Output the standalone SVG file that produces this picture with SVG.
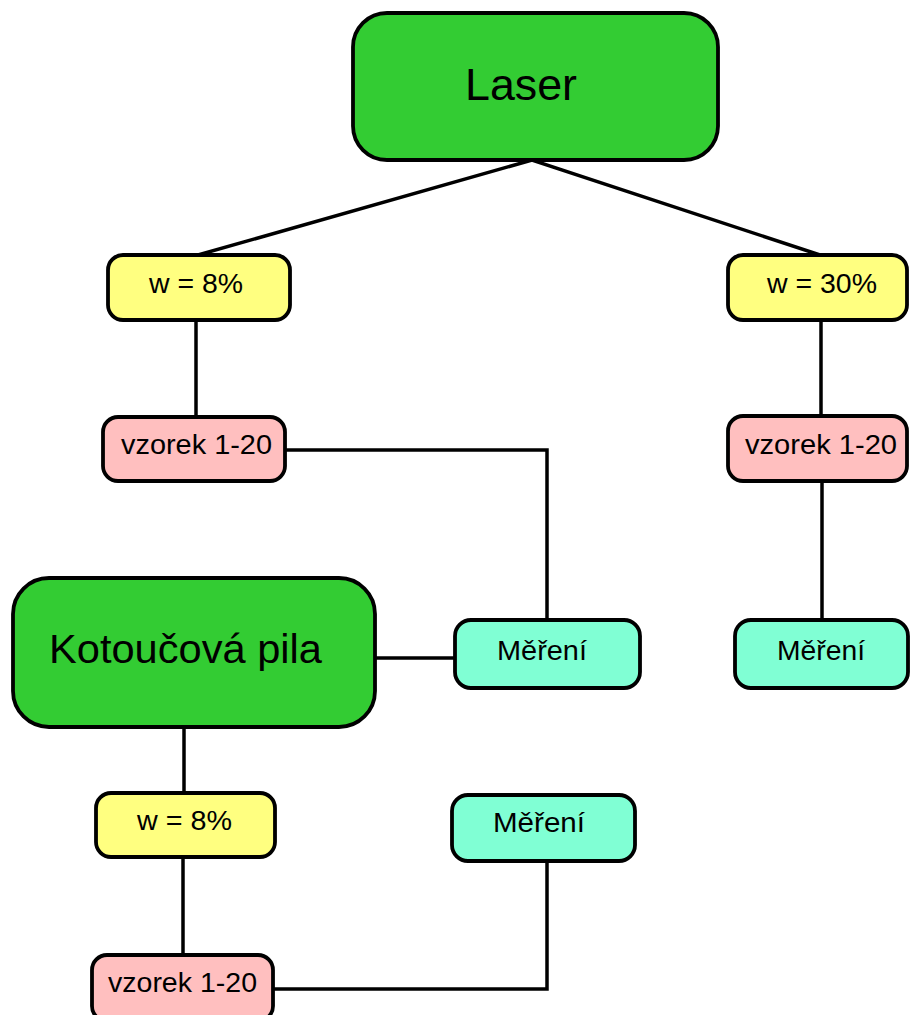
<svg xmlns="http://www.w3.org/2000/svg" width="910" height="1015" viewBox="0 0 910 1015">
<style>
.box{stroke:#000;stroke-width:3.8}
.g{fill:#33cc33}
.y{fill:#ffff80}
.p{fill:#ffbfbf}
.c{fill:#80ffd4}
text{font-family:"Liberation Sans",Arial,sans-serif;fill:#000}
.s{font-size:28px}
.conn{fill:none;stroke:#000;stroke-width:3.5}
</style>
<rect width="910" height="1015" fill="#fff"/>
<g id="connectors" class="conn">
<polyline points="198,255 532,160 820,255"/>
<line x1="196" y1="320" x2="196" y2="417"/>
<polyline points="285,450 547,450 547,620"/>
<line x1="821" y1="320" x2="821" y2="416"/>
<line x1="822" y1="481" x2="822" y2="620"/>
<line x1="375" y1="658" x2="455" y2="658"/>
<line x1="184" y1="727" x2="184" y2="793"/>
<line x1="183" y1="857" x2="183" y2="955"/>
<polyline points="273,989 547,989 547,861"/>
</g>
<g id="laser"><rect class="box g" x="353" y="13" width="365" height="147" rx="34"/><text x="465" y="100" font-size="44" textLength="112" lengthAdjust="spacingAndGlyphs">Laser</text></g>
<g id="w8-top"><rect class="box y" x="108" y="255" width="182" height="65" rx="15"/><text class="s" x="149" y="293" textLength="94" lengthAdjust="spacingAndGlyphs">w = 8%</text></g>
<g id="w30"><rect class="box y" x="728" y="255" width="179" height="65" rx="15"/><text class="s" x="767" y="293" textLength="110" lengthAdjust="spacingAndGlyphs">w = 30%</text></g>
<g id="vzorek-left"><rect class="box p" x="103" y="417" width="182" height="64" rx="15"/><text class="s" x="121" y="454" textLength="151" lengthAdjust="spacingAndGlyphs">vzorek 1-20</text></g>
<g id="vzorek-right"><rect class="box p" x="728" y="416" width="179" height="65" rx="15"/><text class="s" x="745" y="454" textLength="152" lengthAdjust="spacingAndGlyphs">vzorek 1-20</text></g>
<g id="kotoucova"><rect class="box g" x="13" y="578" width="362" height="149" rx="36"/><text x="49" y="663" font-size="41" textLength="273" lengthAdjust="spacingAndGlyphs">Kotoučová pila</text></g>
<g id="mereni-mid"><rect class="box c" x="455" y="620" width="185" height="68" rx="16"/><text class="s" x="497" y="660" textLength="90" lengthAdjust="spacingAndGlyphs">Měření</text></g>
<g id="mereni-right"><rect class="box c" x="735" y="620" width="173" height="68" rx="16"/><text class="s" x="777" y="660" textLength="88" lengthAdjust="spacingAndGlyphs">Měření</text></g>
<g id="w8-bottom"><rect class="box y" x="96" y="793" width="179" height="64" rx="15"/><text class="s" x="137" y="830" textLength="95" lengthAdjust="spacingAndGlyphs">w = 8%</text></g>
<g id="mereni-bottom"><rect class="box c" x="452" y="795" width="183" height="66" rx="16"/><text class="s" x="493" y="832" textLength="92" lengthAdjust="spacingAndGlyphs">Měření</text></g>
<g id="vzorek-bottom"><rect class="box p" x="92" y="955" width="181" height="66" rx="15"/><text class="s" x="108" y="992" textLength="149" lengthAdjust="spacingAndGlyphs">vzorek 1-20</text></g>
</svg>
